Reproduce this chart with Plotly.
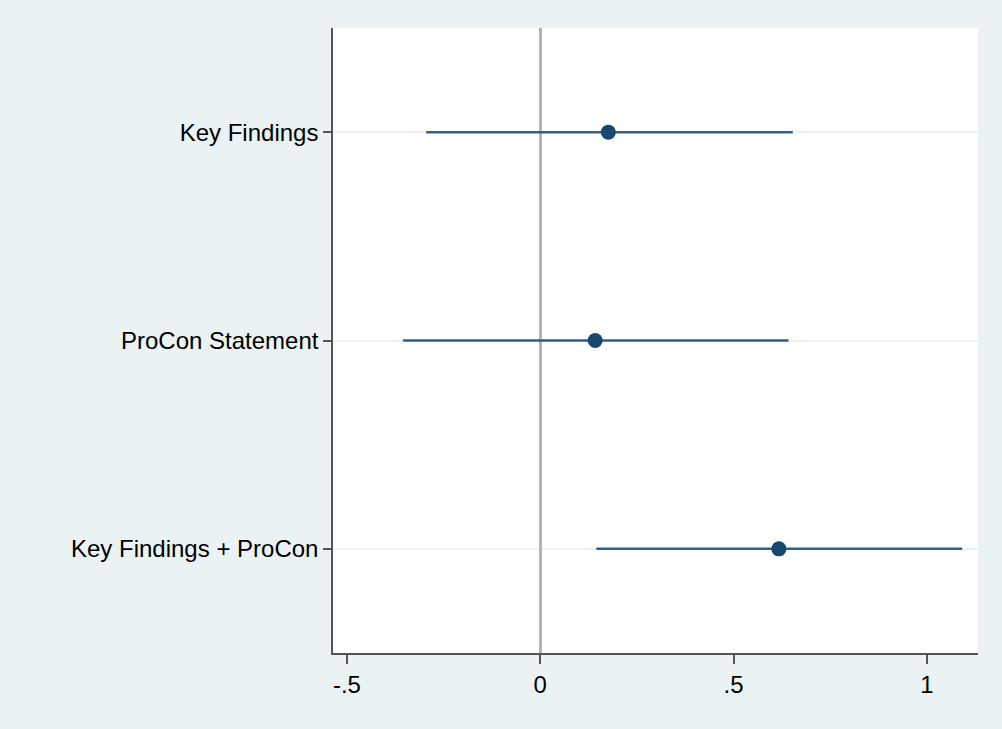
import plotly.graph_objects as go

categories = ["Key Findings", "ProCon Statement", "Key Findings + ProCon"]
estimates = [0.176, 0.142, 0.617]
ci_low = [-0.295, -0.355, 0.145]
ci_high = [0.653, 0.642, 1.091]
x_tickvals = [-0.5, 0, 0.5, 1]
x_ticktext = ["-.5", "0", ".5", "1"]

err_plus = [h - e for h, e in zip(ci_high, estimates)]
err_minus = [e - l for e, l in zip(estimates, ci_low)]

fig = go.Figure()
fig.add_trace(go.Scatter(
    x=estimates, y=categories, mode="markers",
    marker=dict(color="#1a476f", size=15),
    error_x=dict(type="data", symmetric=False, array=err_plus, arrayminus=err_minus,
                 color="#2f5f8a", thickness=2.5, width=0),
    showlegend=False,
))

font = dict(family="Liberation Sans, Arial, sans-serif", size=24, color="#000000")
fig.update_layout(
    width=1002, height=729,
    margin=dict(l=333, r=24, t=28, b=76),
    paper_bgcolor="#EAF2F3", plot_bgcolor="#FFFFFF",
    font=font,
    xaxis=dict(range=[-0.536, 1.132], tickvals=x_tickvals, ticktext=x_ticktext,
               showgrid=False, zeroline=True, zerolinecolor="#b4b4b4", zerolinewidth=2.5,
               showline=True, linecolor="#555555", linewidth=1.5,
               ticks="outside", ticklen=9, tickcolor="#555555", tickwidth=1.5,
               tickfont=font),
    yaxis=dict(categoryorder="array", categoryarray=categories, range=[2.5, -0.5],
               showgrid=True, gridcolor="#EAF2F3", gridwidth=1.5,
               zeroline=False, showline=True, linecolor="#555555", linewidth=1.5,
               ticks="outside", ticklen=8, tickcolor="#555555", tickwidth=1.5,
               tickfont=font),
)

fig.write_html("out.html", config={"displayModeBar": False},
               post_script="document.body.style.margin='0';document.body.style.background='#EAF2F3';")
